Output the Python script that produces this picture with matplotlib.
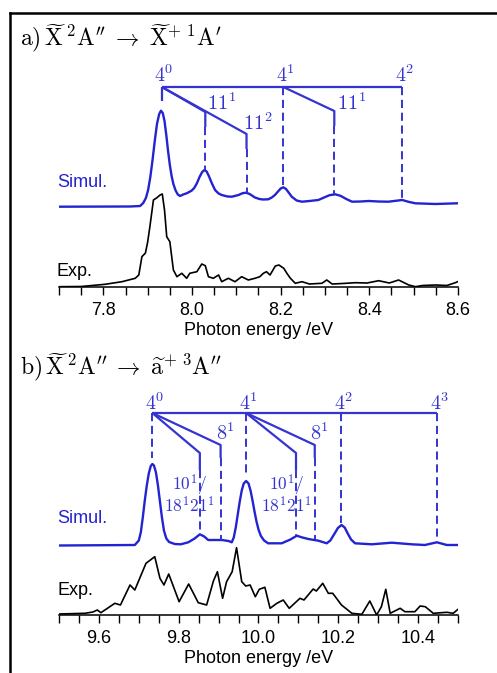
import matplotlib
matplotlib.use("Agg")
import matplotlib.pyplot as plt
from matplotlib.lines import Line2D
import numpy as np

plt.rcParams['mathtext.fontset'] = 'cm'
plt.rcParams['font.family'] = ['Liberation Sans', 'DejaVu Sans']

# ---------------- data: panel a (energy eV, intensity arb.) ----------------
sim_a = [(7.70, 0.003), (7.86, 0.005), (7.883, 0.01), (7.890, 0.04), (7.896, 0.09),
         (7.901, 0.17), (7.906, 0.30), (7.911, 0.47), (7.916, 0.66), (7.921, 0.83),
         (7.926, 0.93), (7.930, 0.963), (7.934, 0.94), (7.938, 0.86), (7.942, 0.72),
         (7.946, 0.56), (7.950, 0.42), (7.954, 0.31), (7.958, 0.23), (7.963, 0.165),
         (7.968, 0.125), (7.973, 0.11), (7.980, 0.125), (7.988, 0.137), (7.999, 0.163),
         (8.005, 0.19), (8.011, 0.237), (8.017, 0.30), (8.023, 0.35), (8.028, 0.37),
         (8.033, 0.355), (8.038, 0.31), (8.044, 0.245), (8.052, 0.17), (8.060, 0.135),
         (8.067, 0.12), (8.080, 0.105), (8.090, 0.103), (8.105, 0.12), (8.114, 0.138),
         (8.122, 0.143), (8.130, 0.13), (8.142, 0.095), (8.152, 0.08), (8.160, 0.075),
         (8.172, 0.077), (8.180, 0.095), (8.187, 0.12), (8.194, 0.155), (8.200, 0.185),
         (8.206, 0.197), (8.212, 0.18), (8.218, 0.145), (8.225, 0.103), (8.236, 0.065),
         (8.248, 0.053), (8.265, 0.06), (8.285, 0.07), (8.298, 0.095), (8.310, 0.118),
         (8.323, 0.127), (8.335, 0.112), (8.348, 0.08), (8.361, 0.053), (8.380, 0.055),
         (8.399, 0.06), (8.420, 0.055), (8.443, 0.053), (8.474, 0.07), (8.490, 0.05),
         (8.504, 0.037), (8.549, 0.03), (8.598, 0.037)]

exp_a = [(7.700, 0.003), (7.75, 0.005), (7.804, 0.027), (7.842, 0.053), (7.872, 0.087),
         (7.880, 0.12), (7.887, 0.303), (7.895, 0.34), (7.900, 0.45), (7.905, 0.603),
         (7.913, 0.87), (7.920, 0.89), (7.928, 0.92), (7.933, 0.93), (7.938, 0.77),
         (7.943, 0.503), (7.950, 0.453), (7.958, 0.17), (7.966, 0.103), (7.977, 0.137),
         (7.988, 0.087), (7.995, 0.137), (8.011, 0.153), (8.022, 0.23), (8.030, 0.213),
         (8.037, 0.103), (8.048, 0.087), (8.060, 0.12), (8.067, 0.053), (8.082, 0.087),
         (8.097, 0.053), (8.112, 0.103), (8.127, 0.07), (8.142, 0.087), (8.153, 0.103),
         (8.161, 0.137), (8.168, 0.153), (8.176, 0.12), (8.188, 0.21), (8.196, 0.22),
         (8.207, 0.187), (8.214, 0.137), (8.222, 0.087), (8.233, 0.037), (8.248, 0.053),
         (8.265, 0.03), (8.293, 0.037), (8.304, 0.07), (8.316, 0.03), (8.340, 0.035),
         (8.368, 0.043), (8.395, 0.04), (8.421, 0.063), (8.445, 0.04), (8.466, 0.07),
         (8.489, 0.02), (8.504, 0.003), (8.520, 0.015), (8.549, 0.02), (8.575, 0.015),
         (8.594, 0.043), (8.600, 0.055)]

# ---------------- data: panel b ----------------
sim_b = [(9.50, 0.0), (9.69, 0.005), (9.700, 0.05), (9.705, 0.13), (9.710, 0.28),
         (9.715, 0.45), (9.720, 0.60), (9.725, 0.72), (9.730, 0.795), (9.734, 0.815),
         (9.738, 0.80), (9.743, 0.73), (9.748, 0.60), (9.753, 0.44), (9.758, 0.28),
         (9.763, 0.15), (9.769, 0.07), (9.776, 0.035), (9.790, 0.015), (9.805, 0.012),
         (9.824, 0.032), (9.840, 0.07), (9.853, 0.112), (9.864, 0.09), (9.874, 0.055),
         (9.890, 0.055), (9.908, 0.055), (9.925, 0.045), (9.933, 0.032), (9.938, 0.08),
         (9.943, 0.18), (9.948, 0.31), (9.953, 0.44), (9.958, 0.55), (9.963, 0.62),
         (9.969, 0.645), (9.975, 0.62), (9.980, 0.55), (9.985, 0.45), (9.990, 0.34),
         (9.995, 0.24), (10.000, 0.16), (10.006, 0.095), (10.014, 0.05), (10.024, 0.022),
         (10.058, 0.022), (10.080, 0.06), (10.096, 0.098), (10.110, 0.08), (10.125, 0.065),
         (10.150, 0.048), (10.171, 0.022), (10.180, 0.05), (10.190, 0.115), (10.199, 0.175),
         (10.208, 0.205), (10.216, 0.18), (10.223, 0.125), (10.232, 0.06), (10.242, 0.022),
         (10.284, 0.012), (10.334, 0.028), (10.384, 0.012), (10.417, 0.005), (10.447, 0.032),
         (10.472, 0.005), (10.50, 0.005)]

exp_b = [(9.500, 0.01), (9.565, 0.017), (9.585, 0.03), (9.596, 0.05), (9.605, 0.023),
         (9.640, 0.117), (9.654, 0.10), (9.678, 0.30), (9.690, 0.25), (9.718, 0.517),
         (9.740, 0.583), (9.753, 0.367), (9.763, 0.30), (9.775, 0.41), (9.801, 0.133),
         (9.825, 0.31), (9.849, 0.123), (9.870, 0.10), (9.887, 0.34), (9.897, 0.433),
         (9.910, 0.167), (9.920, 0.333), (9.934, 0.433), (9.945, 0.673), (9.958, 0.333),
         (9.968, 0.29), (9.979, 0.30), (9.992, 0.183), (10.002, 0.257), (10.016, 0.277),
         (10.029, 0.067), (10.046, 0.117), (10.062, 0.15), (10.077, 0.067), (10.104, 0.167),
         (10.114, 0.15), (10.137, 0.26), (10.145, 0.24), (10.161, 0.317), (10.175, 0.217),
         (10.186, 0.217), (10.208, 0.10), (10.234, 0.017), (10.259, 0.007), (10.279, 0.14),
         (10.296, 0.0), (10.308, 0.083), (10.319, 0.257), (10.330, 0.017), (10.355, 0.067),
         (10.367, 0.033), (10.392, 0.033), (10.405, 0.09), (10.418, 0.083), (10.438, 0.017),
         (10.472, 0.027), (10.488, 0.017), (10.500, 0.057)]

sim_a_E, sim_a_I = map(np.array, zip(*sim_a))
exp_a_E, exp_a_I = map(np.array, zip(*exp_a))
sim_b_E, sim_b_I = map(np.array, zip(*sim_b))
exp_b_E, exp_b_I = map(np.array, zip(*exp_b))

# progression positions (eV)
prog_a = [7.932, 8.206, 8.474]          # 4^0, 4^1, 4^2
prog_a_labels = [r'$4^0$', r'$4^1$', r'$4^2$']
prog_b = [9.734, 9.969, 10.207, 10.447]  # 4^0..4^3
prog_b_labels = [r'$4^0$', r'$4^1$', r'$4^2$', r'$4^3$']

xticks_a = [7.8, 8.0, 8.2, 8.4, 8.6]
xticks_b = [9.6, 9.8, 10.0, 10.2, 10.4]

# ---------------- figure ----------------
W, H = 497, 673
fig = plt.figure(figsize=(W / 100, H / 100), dpi=100)

BLUE = '#2323d2'
ABLUE = '#3434d0'
FS = 13
LFS = 14.5

def px_ax(left, right, top, bottom):
    return fig.add_axes([left / W, 1 - bottom / H, (right - left) / W, (bottom - top) / H])

def style_axis(ax, x0, x1, ytop, majors):
    ax.set_xlim(x0, x1)
    ax.set_ylim(0, ytop)
    for s in ['top', 'left', 'right']:
        ax.spines[s].set_visible(False)
    ax.spines['bottom'].set_linewidth(1.1)
    ax.set_yticks([])
    ax.set_xticks(majors)
    ax.set_xticklabels([f'{v:.1f}' for v in majors])
    ax.set_xticks(np.arange(x0, x1 + 1e-6, 0.05), minor=True)
    ax.tick_params(axis='x', which='both', direction='out', length=6, width=1.0,
                   labelsize=FS, pad=5)
    ax.set_xlabel('Photon energy /eV', fontsize=FS, labelpad=2)
    ax.patch.set_visible(False)

def solid(ax, xs, ys):
    ax.plot(xs, ys, color=ABLUE, lw=1.6, solid_capstyle='butt', clip_on=False)

def dashed(ax, x, y0, y1):
    ax.plot([x, x], [y0, y1], color=ABLUE, lw=1.4, ls=(0, (4.2, 2.4)), clip_on=False)

# ---- panel a ----
axa = px_ax(59, 458, 40, 287)
style_axis(axa, 7.7, 8.6, 2.47, xticks_a)
off_a = 0.80
axa.plot(sim_a_E, sim_a_I + off_a, color=BLUE, lw=1.7)
axa.plot(exp_a_E, exp_a_I, color='black', lw=1.2)

bar_a = 2.00
solid(axa, [prog_a[0], prog_a[-1]], [bar_a, bar_a])
for x, lab in zip(prog_a, prog_a_labels):
    axa.annotate(lab, (x, bar_a + 0.05), xytext=(-5.5, 0), textcoords='offset points',
                 ha='left', va='baseline', color=ABLUE, fontsize=LFS)
solid(axa, [prog_a[0], prog_a[0]], [bar_a, 1.86])
dashed(axa, prog_a[1], bar_a, 1.02)
dashed(axa, prog_a[2], bar_a, 0.89)
# 11^1, 11^2 from 4^0 ; 11^1 from 4^1
for x0, x1, yc, ybot, lab, lx, ly in [(7.932, 8.030, 1.75, 1.17, r'$11^1$', 8.034, 1.77),
                                      (7.932, 8.123, 1.53, 0.94, r'$11^2$', 8.116, 1.57),
                                      (8.206, 8.321, 1.76, 0.93, r'$11^1$', 8.327, 1.77)]:
    solid(axa, [x0, x1, x1], [bar_a, yc, yc - 0.15])
    dashed(axa, x1, yc - 0.15, ybot)
    axa.text(lx, ly, lab, ha='left', va='baseline', color=ABLUE, fontsize=LFS)

axa.text(7.695, 1.00, 'Simul.', color=BLUE, fontsize=FS, ha='left', va='baseline')
axa.text(7.695, 0.11, 'Exp.', color='black', fontsize=FS, ha='left', va='baseline')

# ---- panel b ----
axb = px_ax(59, 458, 370, 615)
style_axis(axb, 9.5, 10.5, 2.45, xticks_b)
off_b = 0.695
axb.plot(sim_b_E, sim_b_I + off_b, color=BLUE, lw=1.7)
axb.plot(exp_b_E, exp_b_I, color='black', lw=1.2)

bar_b = 2.02
solid(axb, [prog_b[0], prog_b[-1]], [bar_b, bar_b])
for x, lab in zip(prog_b, prog_b_labels):
    axb.annotate(lab, (x, bar_b + 0.03), xytext=(-5.0, 0), textcoords='offset points',
                 ha='left', va='baseline', color=ABLUE, fontsize=LFS)
dashed(axb, prog_b[0], bar_b, 1.57)
dashed(axb, prog_b[1], bar_b, 1.38)
dashed(axb, prog_b[2], bar_b, 0.92)
dashed(axb, prog_b[3], bar_b, 0.74)
for x0, x10, x8, ybot10, ybot8, lx in [(9.734, 9.853, 9.905, 0.80, 0.75, 9.827),
                                       (9.969, 10.094, 10.141, 0.80, 0.76, 10.070)]:
    solid(axb, [x0, x10, x10], [bar_b, 1.62, 1.45])
    dashed(axb, x10, 1.45, ybot10)
    solid(axb, [x0, x8, x8], [bar_b, 1.70, 1.57])
    dashed(axb, x8, 1.57, ybot8)
    axb.annotate(r'$8^1$', (x8, 1.75), xytext=(-3.5, 0), textcoords='offset points',
                 ha='left', va='baseline', color=ABLUE, fontsize=LFS)
    axb.text(lx, 1.21, '$10^1/$\n$18^1 21^1$', ha='center', va='center',
             multialignment='center', linespacing=0.85, color=ABLUE, fontsize=12.5)

axb.text(9.495, 0.92, 'Simul.', color=BLUE, fontsize=FS, ha='left', va='baseline')
axb.text(9.495, 0.20, 'Exp.', color='black', fontsize=FS, ha='left', va='baseline')

# ---- panel titles ----
fig.text(20 / W, 1 - 46 / H,
         r'$\mathrm{a)}\,\widetilde{\mathrm{X}}\,{}^{2}\mathrm{A}^{\prime\prime}\;\rightarrow\;'
         r'\widetilde{\mathrm{X}}^{+}\,{}^{1}\mathrm{A}^{\prime}$',
         fontsize=17, ha='left', va='baseline')
fig.text(20 / W, 1 - 375 / H,
         r'$\mathrm{b)}\,\widetilde{\mathrm{X}}\,{}^{2}\mathrm{A}^{\prime\prime}\;\rightarrow\;'
         r'\widetilde{\mathrm{a}}^{+}\,{}^{3}\mathrm{A}^{\prime\prime}$',
         fontsize=17, ha='left', va='baseline')

# ---- outer frame (top and left edges) ----
fig.add_artist(Line2D([10 / W, 1.0], [1 - 13 / H, 1 - 13 / H], color='black', lw=1.8,
                      transform=fig.transFigure))
fig.add_artist(Line2D([10 / W, 10 / W], [0, 1 - 13 / H], color='black', lw=1.8,
                      transform=fig.transFigure))

fig.savefig('out.png', dpi=100)
